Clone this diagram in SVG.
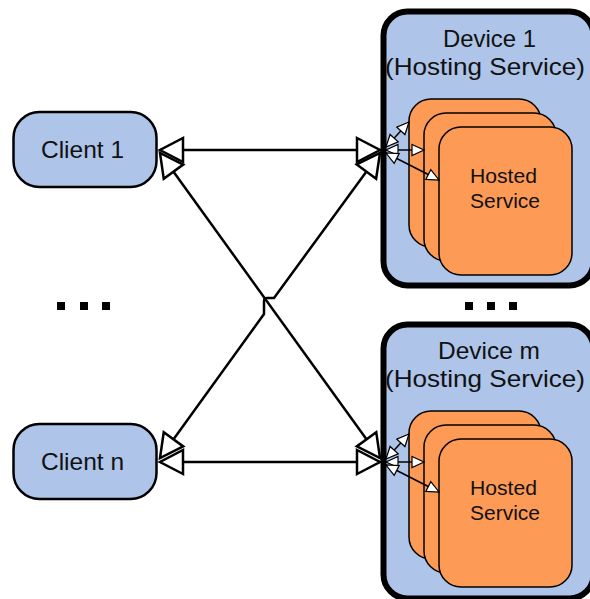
<svg xmlns="http://www.w3.org/2000/svg" width="590" height="599" viewBox="0 0 590 599">
  <style>
    .client { fill: #aec4e8; stroke: #000; stroke-width: 2.5; }
    .device { fill: #aec4e8; stroke: #000; stroke-width: 6; }
    .card { fill: #fd9a56; stroke: #000; stroke-width: 1.5; }
    .lbl { font-family: "Liberation Sans", Arial, sans-serif; font-size: 24px; fill: #111; }
    .lbl-s { font-family: "Liberation Sans", Arial, sans-serif; font-size: 21px; fill: #111; }
    .link { fill: none; stroke: #000; stroke-width: 2.5; marker-start: url(#big); marker-end: url(#big); }
    .sub { fill: none; stroke: #000; stroke-width: 1.5; marker-start: url(#small); marker-end: url(#small); }
    .dot { fill: #000; }
  </style>
  <defs>
    <marker id="big" markerUnits="userSpaceOnUse" viewBox="-2 -2 28 30" refX="23" refY="13" markerWidth="28" markerHeight="30" orient="auto-start-reverse" overflow="visible">
      <path d="M0,1 L23,13 L0,25 Z" fill="#fff" stroke="#000" stroke-width="2.5" stroke-linejoin="miter"/>
    </marker>
    <marker id="small" markerUnits="userSpaceOnUse" viewBox="-2 -2 16 16" refX="12" refY="6" markerWidth="16" markerHeight="16" orient="auto-start-reverse" overflow="visible">
      <path d="M0,0.5 L12,6 L0,11.5 Z" fill="#fff" stroke="#000" stroke-width="1.2"/>
    </marker>
  </defs>

  <!-- clients -->
  <g id="client-1">
    <rect class="client" x="13.5" y="112" width="143" height="75" rx="26" ry="26"/>
    <text class="lbl" x="41" y="158" textLength="83" lengthAdjust="spacingAndGlyphs">Client 1</text>
  </g>
  <g id="client-n">
    <rect class="client" x="13.5" y="424" width="143" height="75" rx="26" ry="26"/>
    <text class="lbl" x="41" y="470" textLength="83" lengthAdjust="spacingAndGlyphs">Client n</text>
  </g>

  <!-- ellipses -->
  <g id="more-clients">
    <rect class="dot" x="57" y="302" width="8" height="8"/>
    <rect class="dot" x="80" y="302" width="8" height="8"/>
    <rect class="dot" x="102" y="302" width="8" height="8"/>
  </g>
  <g id="more-devices">
    <rect class="dot" x="465" y="302" width="8" height="8"/>
    <rect class="dot" x="487" y="302" width="8" height="8"/>
    <rect class="dot" x="509" y="302" width="8" height="8"/>
  </g>

  <!-- device 1 -->
  <g id="device-1">
    <rect class="device" x="383.5" y="11.5" width="210" height="274" rx="24" ry="24"/>
    <text class="lbl" x="443" y="47" textLength="93" lengthAdjust="spacingAndGlyphs">Device 1</text>
    <text class="lbl" x="385" y="75" textLength="200" lengthAdjust="spacingAndGlyphs">(Hosting Service)</text>
    <g id="hosted-1">
      <rect class="card" x="409" y="99" width="132" height="148" rx="22" ry="22"/>
      <rect class="card" x="424" y="113" width="132" height="148" rx="22" ry="22"/>
      <rect class="card" x="439" y="127" width="133" height="148" rx="22" ry="22"/>
      <text class="lbl-s" x="470" y="183" textLength="67" lengthAdjust="spacingAndGlyphs">Hosted</text>
      <text class="lbl-s" x="470" y="208" textLength="70" lengthAdjust="spacingAndGlyphs">Service</text>
    </g>
  </g>

  <!-- device m -->
  <g id="device-m">
    <rect class="device" x="383.5" y="324.5" width="210" height="274" rx="24" ry="24"/>
    <text class="lbl" x="438" y="359" textLength="102" lengthAdjust="spacingAndGlyphs">Device m</text>
    <text class="lbl" x="385" y="387" textLength="200" lengthAdjust="spacingAndGlyphs">(Hosting Service)</text>
    <g id="hosted-m">
      <rect class="card" x="409" y="411" width="132" height="148" rx="22" ry="22"/>
      <rect class="card" x="424" y="425" width="132" height="148" rx="22" ry="22"/>
      <rect class="card" x="439" y="439" width="133" height="148" rx="22" ry="22"/>
      <text class="lbl-s" x="470" y="495" textLength="67" lengthAdjust="spacingAndGlyphs">Hosted</text>
      <text class="lbl-s" x="470" y="520" textLength="70" lengthAdjust="spacingAndGlyphs">Service</text>
    </g>
  </g>

  <!-- connectors -->
  <g id="connectors">
    <path class="link" d="M160,153 L380,458"/>
    <path class="link" d="M160,458 L264,314 L264,301 Q264,298 267,298 L274,298 L380,153"/>
    <path class="link" d="M160,150 L380,150"/>
    <path class="link" d="M160,462 L380,462"/>

    <path class="sub" d="M386,147 L409,122"/>
    <path class="sub" d="M386,150 L424,150"/>
    <path class="sub" d="M386,153 L439,180"/>

    <path class="sub" d="M386,459 L409,434"/>
    <path class="sub" d="M386,462 L424,462"/>
    <path class="sub" d="M386,465 L439,492"/>
  </g>
</svg>
